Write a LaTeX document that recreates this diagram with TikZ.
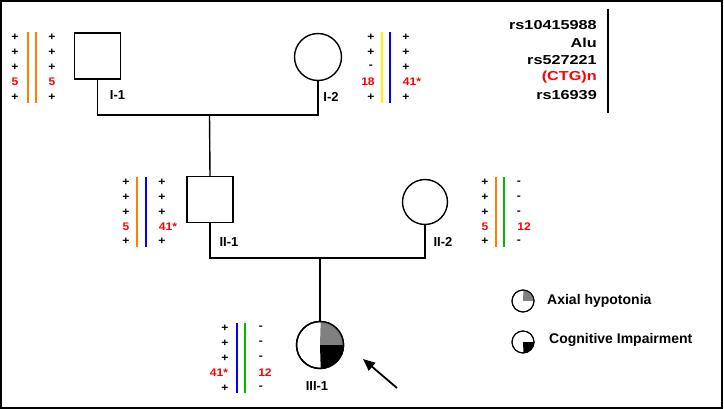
\documentclass[tikz,border=0pt]{standalone}
\usepackage{fontspec}
\setmainfont{Liberation Sans}
\usetikzlibrary{arrows.meta}
\definecolor{myorange}{RGB}{255,128,0}
\definecolor{myyellow}{RGB}{255,240,0}
\definecolor{myblue}{RGB}{0,0,255}
\definecolor{mygreen}{RGB}{0,185,0}
\definecolor{myred}{RGB}{255,0,0}
\definecolor{mygray}{RGB}{128,128,128}
\newcommand{\wideT}[1]{\scalebox{1.25}[1]{#1}}
\newcommand{\wideM}[1]{\scalebox{1.1}[1]{#1}}
\begin{document}
\begin{tikzpicture}[x=1pt,y=-1pt,
  sq/.style={draw,line width=1.4pt,fill=white,minimum size=46pt,inner sep=0pt},
  ci/.style={draw,circle,line width=1.4pt,fill=white,minimum size=47pt,inner sep=0pt},
  lci/.style={draw,circle,line width=1pt,fill=white,minimum size=22pt,inner sep=0pt},
  ped/.style={line width=1.4pt},
  lbl/.style={font=\fontsize{13}{13}\selectfont\bfseries,inner sep=0pt},
  mk/.style={font=\fontsize{11}{11}\selectfont\bfseries,inner sep=0pt},
  rd/.style={text=myred},
  hap/.style={line width=2pt},
  leg/.style={font=\fontsize{13}{13}\selectfont\bfseries,inner sep=0pt,anchor=east},
  legb/.style={font=\fontsize{14}{14}\selectfont\bfseries,inner sep=0pt,anchor=west}]
\useasboundingbox (0,0) rectangle (724,409);
\draw[line width=1.5pt] (1,1) rectangle (722,408);

% individuals
\node[sq] (I1) at (97.5,56) {};
\node[ci] (I2) at (318,57) {};
\node[sq] (II1) at (210,199.5) {};
\node[ci,minimum size=45pt] (II2) at (425,202) {};
\node[ci] (III1) at (320,345) {};
\fill[mygray] (III1.center) -- (III1.east) arc (0:-90:23.5) -- cycle;
\fill[black] (III1.center) -- (III1.east) arc (0:90:23.5) -- cycle;
\draw[line width=1.4pt] (III1.center) circle (23.5);

% labels
\node[lbl] (lI1) at (117.5,95) {I-1};
\node[lbl] (lI2) at (331,97) {I-2};
\node[lbl] (lII1) at (229,242) {II-1};
\node[lbl] (lII2) at (443,242) {II-2};
\node[lbl] (lIII1) at (317,386) {III-1};

% pedigree lines
\coordinate (j1) at (209.5,115);
\coordinate (j2) at (320,258);
\draw[ped] (I1.south) |- (j1) -| (I2.south);
\draw[ped] (j1) -- (II1.north);
\draw[ped] (II1.south) |- (j2) -| (II2.south);
\draw[ped] (j2) -- (III1.north);

% arrow
\coordinate (atail) at (397,388);
\coordinate (ahead) at (363,359);
\draw[line width=1.8pt,-{Triangle[length=12pt,width=10pt]}] (atail) -- (ahead);

% haplotypes I-1
\draw[hap,myorange] (27.7,32) -- (27.7,103);
\draw[hap,myorange] (35.7,32) -- (35.7,103);
\foreach \t [count=\i] in {+,+,+,,+} {
  \node[mk] (a\i) at (15,{22+15*\i}) {\wideM{\t}};
}
\foreach \t [count=\i] in {+,+,+,,+} {
  \node[mk] (b\i) at (52,{22+15*\i}) {\wideM{\t}};
}
\node[mk,rd] (a4r) at (15,82) {\wideM{5}};
\node[mk,rd] (b4r) at (52,82) {\wideM{5}};

% haplotypes I-2
\draw[hap,myyellow] (382,32) -- (382,103);
\draw[hap,myblue] (390,32) -- (390,103);
\foreach \t [count=\i] in {+,+,-,,+} {
  \node[mk] (c\i) at (371,{22+15*\i}) {\wideM{\t}};
}
\foreach \t [count=\i] in {+,+,+,,+} {
  \node[mk] (d\i) at (406,{22+15*\i}) {\wideM{\t}};
}
\node[mk,rd] (c4r) at (368,82) {\wideM{18}};
\node[mk,rd] (d4r) at (412,82) {\wideM{41*}};

% haplotypes II-1
\draw[hap,myorange] (137,177) -- (137,247);
\draw[hap,myblue] (146,177) -- (146,247);
\foreach \t [count=\i] in {+,+,+,,+} {
  \node[mk] (e\i) at (126,{168+14.75*\i}) {\wideM{\t}};
}
\foreach \t [count=\i] in {+,+,+,,+} {
  \node[mk] (f\i) at (162,{168+14.75*\i}) {\wideM{\t}};
}
\node[mk,rd] (e4r) at (126,227) {\wideM{5}};
\node[mk,rd] (f4r) at (168,227) {\wideM{41*}};

% haplotypes II-2
\draw[hap,myorange] (496,177) -- (496,247);
\draw[hap,mygreen] (504,177) -- (504,247);
\foreach \t [count=\i] in {+,+,+,,+} {
  \node[mk] (g\i) at (485,{168+14.75*\i}) {\wideM{\t}};
}
\foreach \t [count=\i] in {-,-,-,,-} {
  \node[mk] (h\i) at (519,{168+14.75*\i}) {\wideM{\t}};
}
\node[mk,rd] (g4r) at (485,227) {\wideM{5}};
\node[mk,rd] (h4r) at (524,227) {\wideM{12}};

% haplotypes III-1
\draw[hap,myblue] (237,323) -- (237,393);
\draw[hap,mygreen] (245,323) -- (245,393);
\foreach \t [count=\i] in {+,+,+,,+} {
  \node[mk] (k\i) at (225,{313+15*\i}) {\wideM{\t}};
}
\foreach \t [count=\i] in {-,-,-,,-} {
  \node[mk] (l\i) at (261,{313+15*\i}) {\wideM{\t}};
}
\node[mk,rd] (k4r) at (219,373) {\wideM{41*}};
\node[mk,rd] (l4r) at (265,373) {\wideM{12}};

% marker legend
\node[leg] (r1) at (597,25) {\wideT{rs10415988}};
\node[leg] (r2) at (597,42.5) {\wideT{Alu}};
\node[leg] (r3) at (597,60) {\wideT{rs527221}};
\node[leg,text=myred] (r4) at (597,77.5) {\wideT{(CTG)n}};
\node[leg] (r5) at (597,95) {\wideT{rs16939}};
\draw[line width=2.5pt] (608,9) -- (608,113);

% phenotype legend
\node[lci] (p1) at (523,301) {};
\fill[mygray] (p1.center) -- (p1.east) arc (0:-90:11) -- cycle;
\draw[line width=1pt] (p1.center) circle (11);
\node[lci] (p2) at (523,342) {};
\fill[black] (p2.center) -- (p2.east) arc (0:90:11) -- cycle;
\draw[line width=1pt] (p2.center) circle (11);
\node[legb] (t1) at (547,301) {Axial hypotonia};
\node[legb] (t2) at (549,340) {Cognitive Impairment};
\end{tikzpicture}
\end{document}
